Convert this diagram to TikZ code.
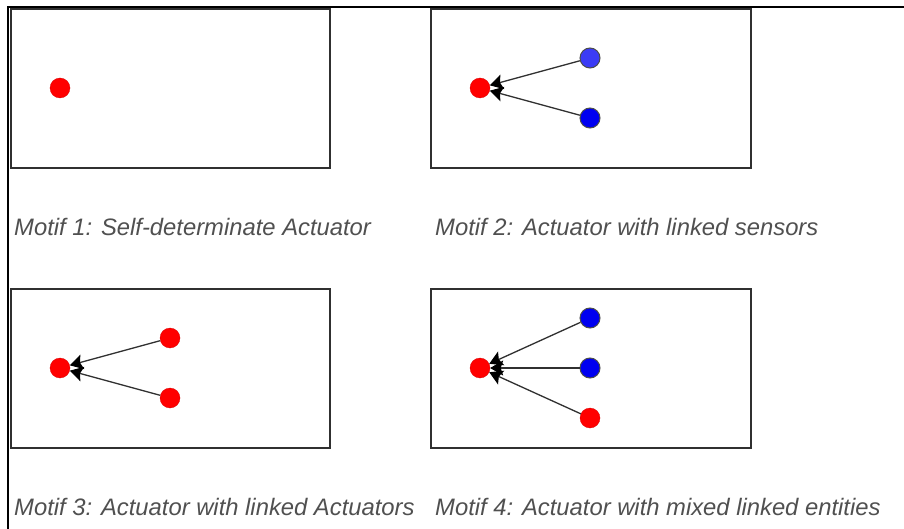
\documentclass[tikz,border=0pt]{standalone}
\usepackage{fontspec}
\setmainfont{Liberation Sans}
\usetikzlibrary{arrows.meta}
\definecolor{capgray}{HTML}{505050}
\definecolor{boxline}{HTML}{303030}
\definecolor{bluea}{HTML}{3B3BF5}
\definecolor{blueb}{HTML}{0000F0}
\definecolor{reda}{HTML}{FF0000}
\begin{document}
\begin{tikzpicture}[
  motifbox/.style={draw=boxline,line width=1.4pt},
  actuator/.style={circle,fill=reda,draw=reda!85!black,line width=0.3pt,minimum size=20pt,inner sep=0pt},
  sensor/.style={circle,fill=#1,draw=black!70,line width=1pt,minimum size=20pt,inner sep=0pt},
  link/.style={draw=boxline,line width=1.3pt,-{Stealth[length=13pt,width=15pt,inset=2.5pt,color=black,line width=1pt]}},
  caption/.style={anchor=west,inner sep=0pt,text=capgray,font=\fontsize{23.8}{25}\selectfont\itshape}]
\useasboundingbox (0pt,0pt) rectangle (904pt,-529pt);
\fill[white] (0pt,0pt) rectangle (904pt,-529pt);
% outer frame
\draw[black,line width=2.5pt] (8pt,-529pt) -- (8pt,-7pt) -- (904pt,-7pt);
% boxes
\draw[motifbox] (11pt,-9pt) rectangle (330pt,-168pt);
\draw[motifbox] (431pt,-9pt) rectangle (751pt,-168pt);
\draw[motifbox] (11pt,-289pt) rectangle (330pt,-448pt);
\draw[motifbox] (431pt,-289pt) rectangle (751pt,-448pt);
% motif 1
\node[actuator] (m1a) at (60pt,-88pt) {};
% motif 2
\node[actuator] (m2a) at (480pt,-88pt) {};
\node[sensor=bluea] (m2s1) at (590pt,-58pt) {};
\node[sensor=blueb] (m2s2) at (590pt,-118pt) {};
\draw[link] (m2s1) -- (m2a);
\draw[link] (m2s2) -- (m2a);
% motif 3
\node[actuator] (m3a) at (60pt,-368pt) {};
\node[actuator] (m3b) at (170pt,-338pt) {};
\node[actuator] (m3c) at (170pt,-398pt) {};
\draw[link] (m3b) -- (m3a);
\draw[link] (m3c) -- (m3a);
% motif 4
\node[actuator] (m4a) at (480pt,-368pt) {};
\node[sensor=blueb] (m4s1) at (590pt,-318pt) {};
\node[sensor=blueb] (m4s2) at (590pt,-368pt) {};
\node[actuator] (m4b) at (590pt,-418pt) {};
\draw[link] (m4s1) -- (m4a);
\draw[link] (m4s2) -- (m4a);
\draw[link] (m4b) -- (m4a);
% captions
\node[caption] (c1) at (14pt,-227pt) {Motif 1: Self-determinate Actuator};
\node[caption] (c2) at (435pt,-227pt) {Motif 2: Actuator with linked sensors};
\node[caption] (c3) at (14pt,-507pt) {Motif 3: Actuator with linked Actuators};
\node[caption] (c4) at (435pt,-507pt) {Motif 4: Actuator with mixed linked entities};
\end{tikzpicture}
\end{document}
